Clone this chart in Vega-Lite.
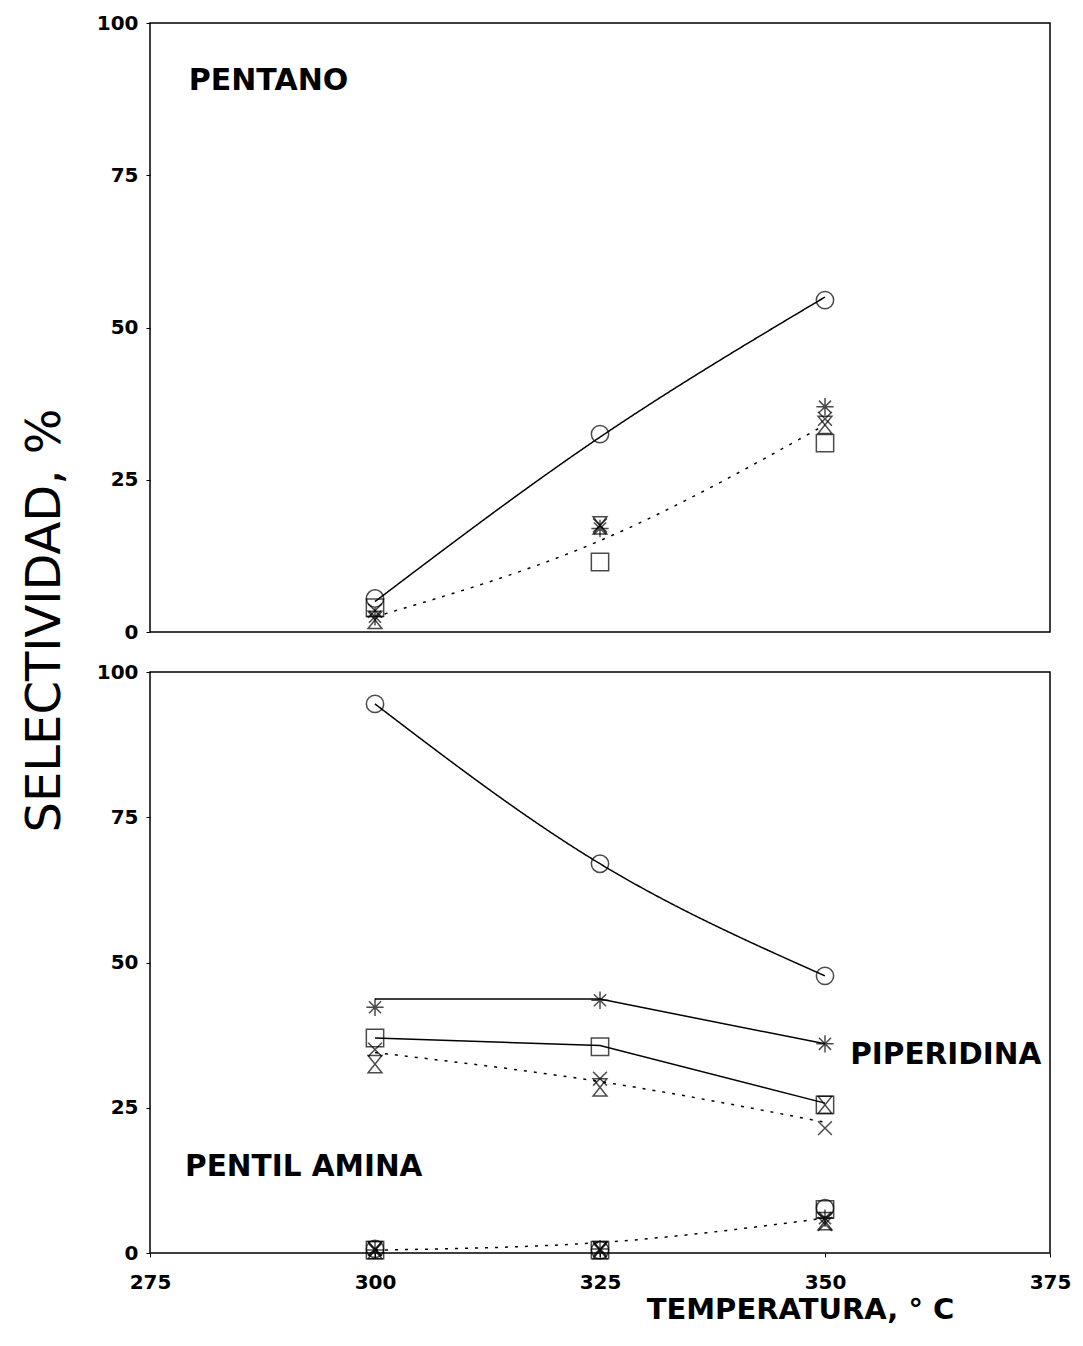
{
  "$schema": "https://vega.github.io/schema/vega-lite/v6.json",
  "background": "white",
  "padding": {"left": 20, "top": 12, "right": 20, "bottom": 5},
  "spacing": 40,
  "bounds": "flush",
  "config": {
    "view": {"stroke": "black", "strokeWidth": 1.5},
    "font": "DejaVu Sans",
    "axis": {
      "labelFont": "DejaVu Sans", "labelFontWeight": "bold", "labelFontSize": 20, "labelColor": "black",
      "titleFont": "DejaVu Sans", "titleFontWeight": "normal", "titleFontSize": 48, "titleColor": "black",
      "grid": false, "domain": false, "tickColor": "black", "tickSize": 4, "labelFlush": false
    }
  },
  "datasets": {
    "puntos": [
      {"producto": "PENTANO", "cat": "A", "temp": 300, "sel": 5.5},
      {"producto": "PENTANO", "cat": "A", "temp": 325, "sel": 32.5},
      {"producto": "PENTANO", "cat": "A", "temp": 350, "sel": 54.5},
      {"producto": "PENTANO", "cat": "B", "temp": 300, "sel": 2.5},
      {"producto": "PENTANO", "cat": "B", "temp": 325, "sel": 17},
      {"producto": "PENTANO", "cat": "B", "temp": 350, "sel": 37},
      {"producto": "PENTANO", "cat": "C", "temp": 300, "sel": 4},
      {"producto": "PENTANO", "cat": "C", "temp": 325, "sel": 11.5},
      {"producto": "PENTANO", "cat": "C", "temp": 350, "sel": 31},
      {"producto": "PENTANO", "cat": "D", "temp": 300, "sel": 2},
      {"producto": "PENTANO", "cat": "D", "temp": 325, "sel": 17.5},
      {"producto": "PENTANO", "cat": "D", "temp": 350, "sel": 34},
      {"producto": "PENTANO", "cat": "E", "temp": 300, "sel": 3.5},
      {"producto": "PENTANO", "cat": "E", "temp": 325, "sel": 17.5},
      {"producto": "PENTANO", "cat": "E", "temp": 350, "sel": 35},
      {"producto": "PIPERIDINA", "cat": "A", "temp": 300, "sel": 94.5},
      {"producto": "PIPERIDINA", "cat": "A", "temp": 325, "sel": 67},
      {"producto": "PIPERIDINA", "cat": "A", "temp": 350, "sel": 47.7},
      {"producto": "PIPERIDINA", "cat": "B", "temp": 300, "sel": 42.3},
      {"producto": "PIPERIDINA", "cat": "B", "temp": 325, "sel": 43.5},
      {"producto": "PIPERIDINA", "cat": "B", "temp": 350, "sel": 36},
      {"producto": "PIPERIDINA", "cat": "C", "temp": 300, "sel": 37},
      {"producto": "PIPERIDINA", "cat": "C", "temp": 325, "sel": 35.5},
      {"producto": "PIPERIDINA", "cat": "C", "temp": 350, "sel": 25.5},
      {"producto": "PIPERIDINA", "cat": "D", "temp": 300, "sel": 32.5},
      {"producto": "PIPERIDINA", "cat": "D", "temp": 325, "sel": 28.5},
      {"producto": "PIPERIDINA", "cat": "D", "temp": 350, "sel": 25.5},
      {"producto": "PIPERIDINA", "cat": "E", "temp": 300, "sel": 35},
      {"producto": "PIPERIDINA", "cat": "E", "temp": 325, "sel": 30},
      {"producto": "PIPERIDINA", "cat": "E", "temp": 350, "sel": 21.5},
      {"producto": "PENTIL AMINA", "cat": "A", "temp": 300, "sel": 0.7},
      {"producto": "PENTIL AMINA", "cat": "A", "temp": 325, "sel": 0.5},
      {"producto": "PENTIL AMINA", "cat": "A", "temp": 350, "sel": 7.7},
      {"producto": "PENTIL AMINA", "cat": "B", "temp": 300, "sel": 0.5},
      {"producto": "PENTIL AMINA", "cat": "B", "temp": 325, "sel": 0.7},
      {"producto": "PENTIL AMINA", "cat": "B", "temp": 350, "sel": 6},
      {"producto": "PENTIL AMINA", "cat": "C", "temp": 300, "sel": 0.5},
      {"producto": "PENTIL AMINA", "cat": "C", "temp": 325, "sel": 0.5},
      {"producto": "PENTIL AMINA", "cat": "C", "temp": 350, "sel": 7.5},
      {"producto": "PENTIL AMINA", "cat": "D", "temp": 300, "sel": 0.5},
      {"producto": "PENTIL AMINA", "cat": "D", "temp": 325, "sel": 0.5},
      {"producto": "PENTIL AMINA", "cat": "D", "temp": 350, "sel": 5.5},
      {"producto": "PENTIL AMINA", "cat": "E", "temp": 300, "sel": 0.7},
      {"producto": "PENTIL AMINA", "cat": "E", "temp": 325, "sel": 0.5},
      {"producto": "PENTIL AMINA", "cat": "E", "temp": 350, "sel": 5}
    ],
    "curvas": [
      {"producto": "PENTANO", "curva": "A", "temp": 300, "sel": 5},
      {"producto": "PENTANO", "curva": "A", "temp": 325, "sel": 32},
      {"producto": "PENTANO", "curva": "A", "temp": 350, "sel": 55},
      {"producto": "PENTANO", "curva": "resto", "temp": 300, "sel": 2.5},
      {"producto": "PENTANO", "curva": "resto", "temp": 325, "sel": 15},
      {"producto": "PENTANO", "curva": "resto", "temp": 350, "sel": 34},
      {"producto": "PIPERIDINA", "curva": "A", "temp": 300, "sel": 94.5},
      {"producto": "PIPERIDINA", "curva": "A", "temp": 325, "sel": 67},
      {"producto": "PIPERIDINA", "curva": "A", "temp": 350, "sel": 47.7},
      {"producto": "PIPERIDINA", "curva": "B", "temp": 300, "sel": 43.7},
      {"producto": "PIPERIDINA", "curva": "B", "temp": 325, "sel": 43.7},
      {"producto": "PIPERIDINA", "curva": "B", "temp": 350, "sel": 36},
      {"producto": "PIPERIDINA", "curva": "C", "temp": 300, "sel": 37},
      {"producto": "PIPERIDINA", "curva": "C", "temp": 325, "sel": 35.7},
      {"producto": "PIPERIDINA", "curva": "C", "temp": 350, "sel": 25.8},
      {"producto": "PIPERIDINA", "curva": "resto", "temp": 300, "sel": 34.5},
      {"producto": "PIPERIDINA", "curva": "resto", "temp": 325, "sel": 29.5},
      {"producto": "PIPERIDINA", "curva": "resto", "temp": 350, "sel": 22.5},
      {"producto": "PENTIL AMINA", "curva": "resto", "temp": 300, "sel": 0.5},
      {"producto": "PENTIL AMINA", "curva": "resto", "temp": 325, "sel": 1.8},
      {"producto": "PENTIL AMINA", "curva": "resto", "temp": 350, "sel": 6}
    ],
    "etiquetas": [
      {"panel": "sup", "texto": "PENTANO", "temp": 279.3, "sel": 90.5},
      {"panel": "inf", "texto": "PIPERIDINA", "temp": 352.8, "sel": 34},
      {"panel": "inf", "texto": "PENTIL AMINA", "temp": 278.9, "sel": 14.8}
    ]
  },
  "vconcat": [
    {
      "width": 900,
      "height": 609,
      "layer": [
        {
          "data": {"name": "curvas"},
          "transform": [{"filter": "datum.producto === 'PENTANO'"}],
          "mark": {"type": "line", "interpolate": "monotone", "color": "black", "strokeWidth": 1.5},
          "encoding": {
            "x": {"field": "temp", "type": "quantitative", "scale": {"domain": [275, 375], "padding": 0, "nice": false, "zero": false}, "axis": null},
            "y": {"field": "sel", "type": "quantitative", "scale": {"domain": [0, 100], "padding": 0, "nice": false},
                  "axis": {"values": [0, 25, 50, 75, 100], "title": "SELECTIVIDAD, %", "titleY": 597, "titleX": -105, "titleAlign": "center", "titleBaseline": "middle", "labelPadding": 8}},
            "detail": {"field": "curva"},
            "strokeDash": {"field": "curva", "type": "nominal", "legend": null,
                           "scale": {"domain": ["A", "B", "C", "resto"], "range": [[1, 0], [1, 0], [1, 0], [3, 7]]}}
          }
        },
        {
          "data": {"name": "puntos"},
          "transform": [{"filter": "datum.producto === 'PENTANO'"}],
          "mark": {"type": "point", "filled": false, "color": "black", "strokeWidth": 1.5, "size": 300},
          "encoding": {
            "x": {"field": "temp", "type": "quantitative"},
            "y": {"field": "sel", "type": "quantitative"},
            "shape": {"field": "cat", "type": "nominal", "legend": null,
                      "scale": {"domain": ["A", "B", "C", "D", "E"],
                                "range": ["circle", "M-1,0L1,0M0,-1L0,1M-0.7,-0.7L0.7,0.7M-0.7,0.7L0.7,-0.7", "square", "M-0.8,-1L0.8,-1L-0.8,1L0.8,1Z", "M-0.8,-0.8L0.8,0.8M-0.8,0.8L0.8,-0.8"]}}
          }
        },
        {
          "data": {"name": "etiquetas"},
          "transform": [{"filter": "datum.panel === 'sup'"}],
          "mark": {"type": "text", "align": "left", "baseline": "middle", "fontSize": 30, "fontWeight": "bold", "font": "DejaVu Sans", "color": "black"},
          "encoding": {
            "x": {"field": "temp", "type": "quantitative"},
            "y": {"field": "sel", "type": "quantitative"},
            "text": {"field": "texto"}
          }
        }
      ]
    },
    {
      "width": 900,
      "height": 581,
      "layer": [
        {
          "data": {"name": "curvas"},
          "transform": [{"filter": "datum.producto !== 'PENTANO' && (datum.curva === 'A' || datum.curva === 'resto')"}],
          "mark": {"type": "line", "interpolate": "monotone", "color": "black", "strokeWidth": 1.5},
          "encoding": {
            "x": {"field": "temp", "type": "quantitative", "scale": {"domain": [275, 375], "padding": 0, "nice": false, "zero": false},
                  "axis": {"values": [275, 300, 325, 350, 375], "title": "TEMPERATURA, ° C", "labelPadding": 15, "titlePadding": 3, "titleX": 650, "titleAlign": "center", "titleFontSize": 29, "titleFontWeight": "bold"}},
            "y": {"field": "sel", "type": "quantitative", "scale": {"domain": [0, 100], "padding": 0, "nice": false},
                  "axis": {"values": [0, 25, 50, 75, 100], "title": null, "labelPadding": 8}},
            "detail": {"field": "producto"},
            "strokeDash": {"field": "curva", "type": "nominal", "legend": null,
                           "scale": {"domain": ["A", "B", "C", "resto"], "range": [[1, 0], [1, 0], [1, 0], [3, 7]]}}
          }
        },
        {
          "data": {"name": "curvas"},
          "transform": [{"filter": "datum.curva === 'B' || datum.curva === 'C'"}],
          "mark": {"type": "line", "interpolate": "linear", "color": "black", "strokeWidth": 1.5},
          "encoding": {
            "x": {"field": "temp", "type": "quantitative"},
            "y": {"field": "sel", "type": "quantitative"},
            "detail": {"field": "curva"}
          }
        },
        {
          "data": {"name": "puntos"},
          "transform": [{"filter": "datum.producto !== 'PENTANO'"}],
          "mark": {"type": "point", "filled": false, "color": "black", "strokeWidth": 1.5, "size": 300},
          "encoding": {
            "x": {"field": "temp", "type": "quantitative"},
            "y": {"field": "sel", "type": "quantitative"},
            "shape": {"field": "cat", "type": "nominal", "legend": null,
                      "scale": {"domain": ["A", "B", "C", "D", "E"],
                                "range": ["circle", "M-1,0L1,0M0,-1L0,1M-0.7,-0.7L0.7,0.7M-0.7,0.7L0.7,-0.7", "square", "M-0.8,-1L0.8,-1L-0.8,1L0.8,1Z", "M-0.8,-0.8L0.8,0.8M-0.8,0.8L0.8,-0.8"]}}
          }
        },
        {
          "data": {"name": "etiquetas"},
          "transform": [{"filter": "datum.panel === 'inf'"}],
          "mark": {"type": "text", "align": "left", "baseline": "middle", "fontSize": 29.5, "fontWeight": "bold", "font": "DejaVu Sans", "color": "black"},
          "encoding": {
            "x": {"field": "temp", "type": "quantitative"},
            "y": {"field": "sel", "type": "quantitative"},
            "text": {"field": "texto"}
          }
        }
      ]
    }
  ]
}
